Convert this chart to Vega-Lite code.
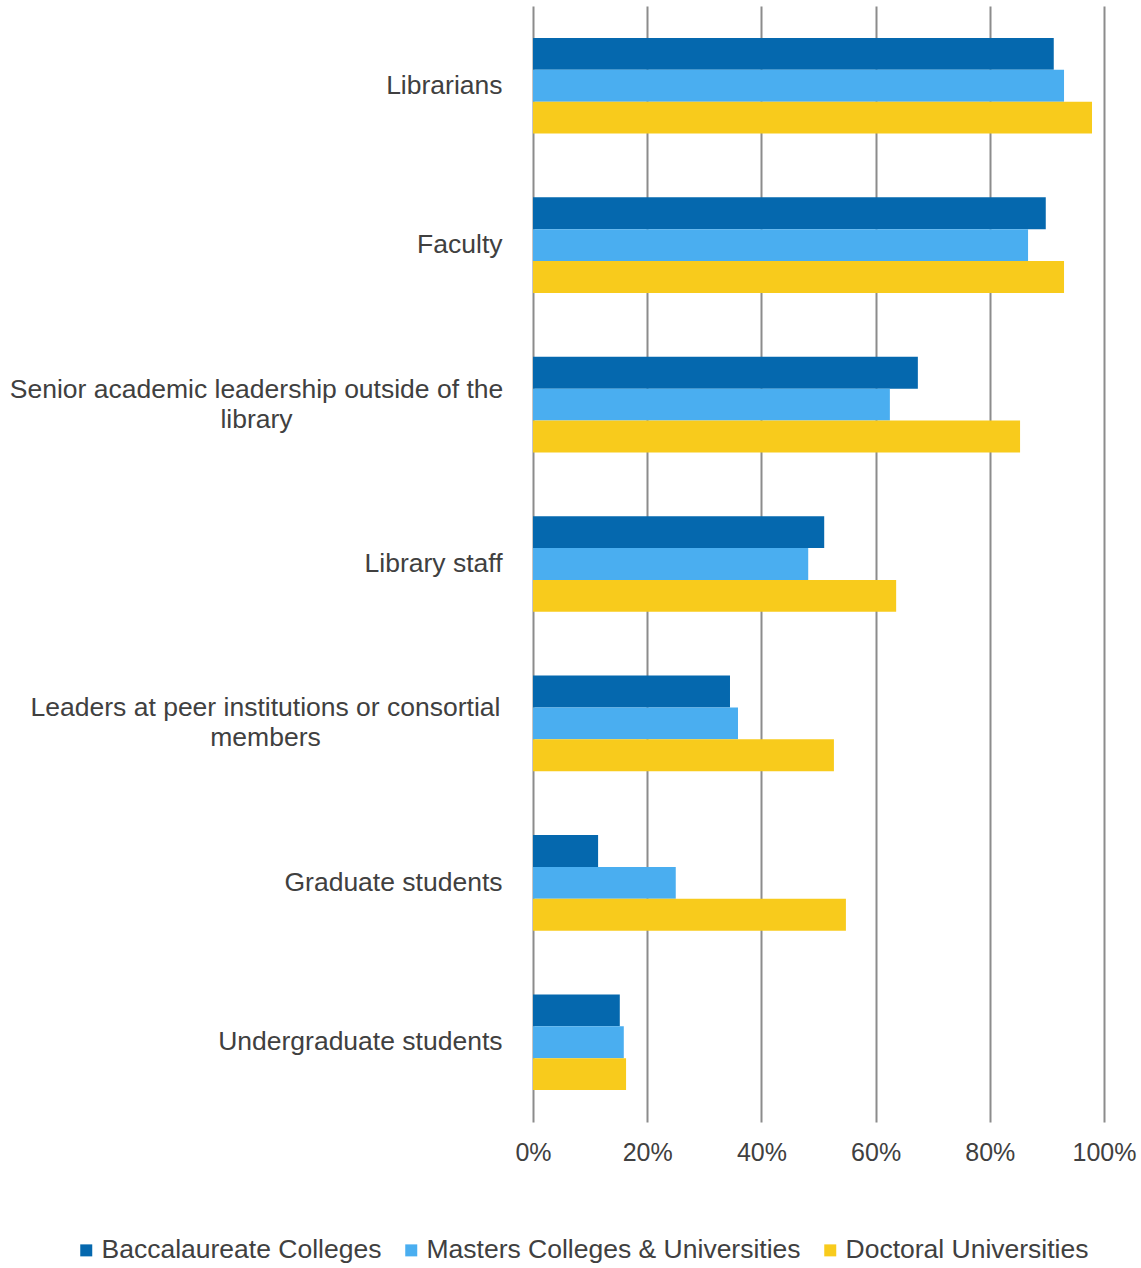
{
  "$schema": "https://vega.github.io/schema/vega-lite/v6.json",
  "autosize": "none",
  "width": 571,
  "height": 1116,
  "padding": {"left": 533, "top": 6, "right": 37, "bottom": 146},
  "background": "white",
  "config": {
    "view": {"stroke": null},
    "font": "Liberation Sans"
  },
  "data": {
    "values": [
      {"role": "Librarians", "type": "Baccalaureate Colleges", "pct": 0.912},
      {"role": "Librarians", "type": "Masters Colleges & Universities", "pct": 0.930},
      {"role": "Librarians", "type": "Doctoral Universities", "pct": 0.979},
      {"role": "Faculty", "type": "Baccalaureate Colleges", "pct": 0.898},
      {"role": "Faculty", "type": "Masters Colleges & Universities", "pct": 0.867},
      {"role": "Faculty", "type": "Doctoral Universities", "pct": 0.930},
      {"role": "Senior academic leadership outside of the library", "type": "Baccalaureate Colleges", "pct": 0.674},
      {"role": "Senior academic leadership outside of the library", "type": "Masters Colleges & Universities", "pct": 0.625},
      {"role": "Senior academic leadership outside of the library", "type": "Doctoral Universities", "pct": 0.853},
      {"role": "Library staff", "type": "Baccalaureate Colleges", "pct": 0.510},
      {"role": "Library staff", "type": "Masters Colleges & Universities", "pct": 0.482},
      {"role": "Library staff", "type": "Doctoral Universities", "pct": 0.636},
      {"role": "Leaders at peer institutions or consortial members", "type": "Baccalaureate Colleges", "pct": 0.345},
      {"role": "Leaders at peer institutions or consortial members", "type": "Masters Colleges & Universities", "pct": 0.359},
      {"role": "Leaders at peer institutions or consortial members", "type": "Doctoral Universities", "pct": 0.527},
      {"role": "Graduate students", "type": "Baccalaureate Colleges", "pct": 0.114},
      {"role": "Graduate students", "type": "Masters Colleges & Universities", "pct": 0.250},
      {"role": "Graduate students", "type": "Doctoral Universities", "pct": 0.548},
      {"role": "Undergraduate students", "type": "Baccalaureate Colleges", "pct": 0.152},
      {"role": "Undergraduate students", "type": "Masters Colleges & Universities", "pct": 0.159},
      {"role": "Undergraduate students", "type": "Doctoral Universities", "pct": 0.163}
    ]
  },
  "mark": {"type": "bar"},
  "encoding": {
    "y": {
      "field": "role",
      "type": "nominal",
      "sort": null,
      "scale": {"paddingInner": 0.4, "paddingOuter": 0.2},
      "axis": {
        "title": null,
        "domain": false,
        "ticks": false,
        "grid": false,
        "labelFontSize": 26.5,
        "labelColor": "#404040",
        "labelLimit": 700,
        "labelLineHeight": 30,
        "labelExpr": "datum.value == 'Senior academic leadership outside of the library' ? ['Senior academic leadership outside of the', 'library'] : datum.value == 'Leaders at peer institutions or consortial members' ? ['Leaders at peer institutions or consortial', 'members'] : datum.value",
        "labelAlign": {
          "condition": {"test": "indexof(datum.value, 'Senior') == 0 || indexof(datum.value, 'Leaders') == 0", "value": "center"},
          "value": "right"
        },
        "labelOffset": {
          "condition": {"test": "indexof(datum.value, 'Senior') == 0 || indexof(datum.value, 'Leaders') == 0", "value": -15},
          "value": 0
        },
        "labelPadding": {
          "condition": [
            {"test": "indexof(datum.value, 'Senior') == 0", "value": 277},
            {"test": "indexof(datum.value, 'Leaders') == 0", "value": 268}
          ],
          "value": 31
        }
      }
    },
    "yOffset": {
      "field": "type",
      "type": "nominal",
      "sort": ["Baccalaureate Colleges", "Masters Colleges & Universities", "Doctoral Universities"],
      "scale": {"paddingInner": 0, "paddingOuter": 0}
    },
    "x": {
      "field": "pct",
      "type": "quantitative",
      "scale": {"domain": [0, 1]},
      "axis": {
        "title": null,
        "format": ".0%",
        "values": [0, 0.2, 0.4, 0.6, 0.8, 1],
        "grid": true,
        "gridColor": "#8c8c8c",
        "gridWidth": 2,
        "domain": false,
        "ticks": false,
        "labelPadding": 18,
        "labelFontSize": 25,
        "labelColor": "#404040",
        "labelFlush": false
      }
    },
    "color": {
      "field": "type",
      "type": "nominal",
      "scale": {
        "domain": ["Baccalaureate Colleges", "Masters Colleges & Universities", "Doctoral Universities"],
        "range": ["#0568ae", "#4aaef0", "#f8cb1c"]
      },
      "legend": {
        "title": null,
        "orient": "none",
        "direction": "horizontal",
        "legendX": -460,
        "legendY": 1231,
        "symbolType": "square",
        "symbolSize": 144,
        "symbolStrokeWidth": 0,
        "labelFontSize": 26.5,
        "labelColor": "#404040",
        "labelOffset": 2,
        "columnPadding": 16,
        "labelLimit": 600
      }
    }
  }
}
